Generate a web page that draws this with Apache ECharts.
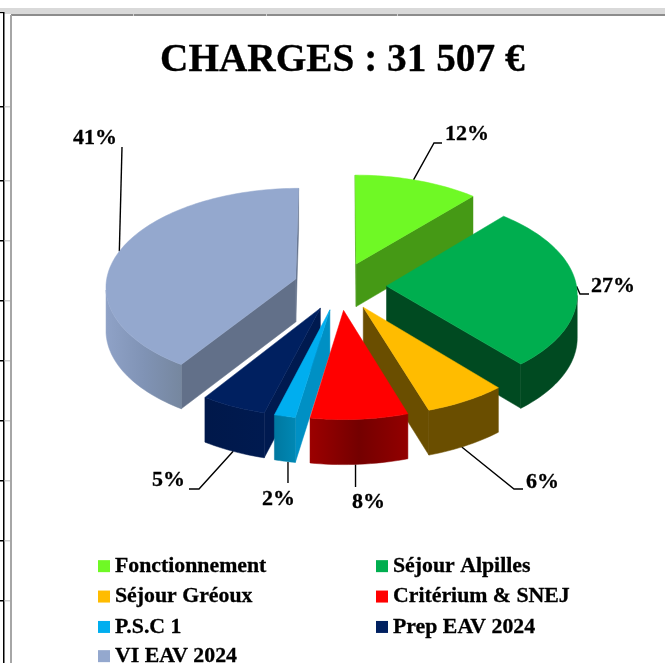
<!DOCTYPE html>
<html><head><meta charset="utf-8">
<style>html,body{margin:0;padding:0;background:#fff;overflow:hidden}#c{width:665px;height:663px}</style>
<script src="https://cdn.jsdelivr.net/npm/echarts@6/dist/echarts.min.js"></script>
</head><body><div id="c"></div>
<script>
// ---- data ----
const categories = ['Fonctionnement','Séjour Alpilles','Séjour Gréoux','Critérium & SNEJ','P.S.C 1','Prep EAV 2024','VI EAV 2024'];
const shares = [11.5, 27.1, 6.4, 7.6, 1.65, 5.15, 40.6];
const titleText = 'CHARGES : 31 507 €';
// ---- styles ----
const topColors = ['#6FF925','#00AE4F','#FFBC00','#FF0000','#00AEEF','#002060','#94A8CE'];
const cutColors = ['#459915','#004A21','#6A4E00','#8A0000','#0090C4','#001A50','#627089'];
const arcStops = [
  ['#459915','#459915'],['#004A21','#004A21'],['#6A4E00','#6A4E00'],
  ['#9C0000','#740000','#930000'],['#0078A0','#0088B4'],['#00184A','#001A50'],['#8FA2C7','#8093B5','#76879F']
];
// ---- layout ----
const geo = {cx:340, cy:286, R:190, b:98, e:46.5, k:0.07, D:43};
const paintOrder = [0,6,1,2,5,4,3];
const leaderShift = [-1.3,0,1.4,1.1,-0.9,0,0];
const leaderTails = [[[434,143],[442,143]],[[580,294],[589,294]],[[514,489],[523,489]],[[null,487]],[[null,483]],[[199,489],[189,489]],[[122,147]]];
const leaderOnBase = [false,false,true,true,true,true,false];
const labelPos = [[445,134],[591,286],[526,482],[352,502],[262,499],[152,480],[73,138]];

const total = shares.reduce((a,b)=>a+b,0);
const rad = d=>d*Math.PI/180;
let acc = 0;
const spans = shares.map(v=>{const s=acc; acc+=v/total*360; return [s,acc];});

function proj(m, th, r, low){
  const X = geo.e*Math.sin(rad(m)) + r*geo.R*Math.sin(rad(th));
  const Z = (geo.e*Math.cos(rad(m)) + r*geo.R*Math.cos(rad(th)))/geo.R;
  const p = 1/(1+geo.k*Z);
  const y = geo.cy - geo.b*Z*p + (low ? geo.D*(1+(p-1)*0.5) : 0);
  return [geo.cx + X*p, y];
}
function slicePaths(i){
  const [a,b] = spans[i], m=(a+b)/2, n=Math.max(8,Math.round((b-a)/1.5));
  const arc=[], tip=proj(m,0,0,false), tipL=proj(m,0,0,true);
  for(let j=0;j<=n;j++){arc.push(a+(b-a)*j/n);}
  const top=[tip].concat(arc.map(t=>proj(m,t,1,false)));
  const ch=[];
  const poly=(pts,fill)=>ch.push({type:'polygon',silent:true,shape:{points:pts},style:{fill:fill,stroke:fill,lineWidth:0.5}});
  const s0=proj(m,a,1,false), s1=proj(m,b,1,false);
  if(s0[0]<tip[0]-0.5) poly([tip,s0,proj(m,a,1,true),tipL],cutColors[i]);
  if(s1[0]>tip[0]+0.5 ) poly([s1,tip,tipL,proj(m,b,1,true)],cutColors[i]);
  const vis=arc.filter((t,j)=>{
    if(j===n) return proj(m,arc[n-1],1)[0]>proj(m,t,1)[0];
    return proj(m,t,1)[0]>proj(m,arc[j+1],1)[0];
  });
  if(vis.length>1){
    const up=vis.map(t=>proj(m,t,1,false)), dn=vis.map(t=>proj(m,t,1,true)).reverse();
    const st=arcStops[i];
    poly(up.concat(dn),{type:'linear',x:0,y:0,x2:1,y2:0,colorStops:st.map((c,q)=>({offset:q/(st.length-1),color:c}))});
  }
  poly(top,topColors[i]);
  return ch;
}

const series = paintOrder.map(i=>({
  type:'custom', name:categories[i], coordinateSystem:'none', silent:true,
  itemStyle:{color:topColors[i]},
  data:[[shares[i]]],
  renderItem:()=>({type:'group',children:slicePaths(i)})
}));

const graphics=[];
const rect=(x,y,w,h,f)=>graphics.push({type:'rect',silent:true,shape:{x,y,width:w,height:h},style:{fill:f},z:-1});
rect(0,8,665,6,'#D9D9D9'); rect(11,14,654,2,'#8C8C8C');
rect(133,14,1,2,'#D0D0D0'); rect(266,14,1,2,'#D0D0D0'); rect(397,14,1,2,'#D0D0D0');
rect(10,15,2,648,'#A6A6A6'); rect(0,12,4,1,'#000'); rect(3,12,1.5,651,'#000');
[106,180,240,300,360,420,480,540,600].forEach(y=>{rect(0,y,3,1.5,'#000');rect(4.5,y,5.5,1.5,'#D0D0D0');});

categories.forEach((c,i)=>{
  const [a,b]=spans[i], m=(a+b)/2;
  const start=proj(m,m+leaderShift[i],1,leaderOnBase[i]);
  const tail=leaderTails[i].map(p=>[p[0]===null?start[0]:p[0],p[1]]);
  graphics.push({type:'polyline',silent:true,shape:{points:[start].concat(tail)},style:{stroke:'#000',lineWidth:1.4,fill:null}});
  graphics.push({type:'text',silent:true,x:labelPos[i][0],y:labelPos[i][1],style:{
    text:Math.round(shares[i]/total*100)+'%',fill:'#000',stroke:'#000',lineWidth:0.3,font:'bold 22px "Liberation Serif"',verticalAlign:'middle',align:'left'}});
});

const legendBase = {orient:'vertical',itemWidth:12,itemHeight:12,itemGap:8.1,selectedMode:false,icon:'rect',
  textStyle:{fontFamily:'Liberation Serif',fontWeight:'bold',fontSize:21.8,color:'#000',textBorderColor:'#000',textBorderWidth:0.3,padding:[0,0,0,0]},padding:0};
const chart = echarts.init(document.getElementById('c'),null,{renderer:'canvas',width:665,height:663});
chart.setOption({
  animation:false,
  backgroundColor:'#fff',
  title:{text:titleText,left:160,top:41,padding:0,itemGap:0,
    textStyle:{fontFamily:'Liberation Serif',fontWeight:'bold',fontSize:39.3,color:'#000',textBorderColor:'#000',textBorderWidth:0.3}},
  legend:[
    Object.assign({},legendBase,{left:98,top:555,data:categories.slice(0,6).filter((c,i)=>i%2===0)}),
    Object.assign({},legendBase,{left:376,top:555,data:categories.slice(0,6).filter((c,i)=>i%2===1)}),
    Object.assign({},legendBase,{left:98,top:645,data:categories.slice(6)})
  ],
  graphic:graphics,
  series:series
});
</script></body></html>
